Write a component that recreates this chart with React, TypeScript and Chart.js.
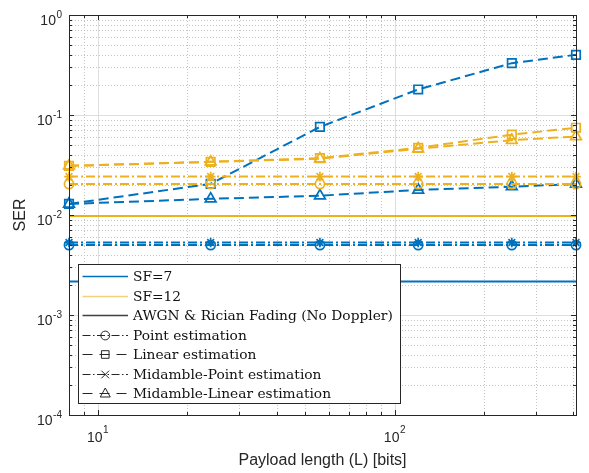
import { useEffect, useRef } from "react";
import { Chart, registerables } from "chart.js";

Chart.register(...registerables);

// Payload lengths (bits) where SER was evaluated
const payloadBits = [8, 24, 56, 120, 248, 408];

// SF = 7
const sf7Awgn = [0.00216, 0.00216, 0.00216, 0.00216, 0.00216, 0.00216];
const sf7Point = [0.005, 0.005, 0.005, 0.005, 0.005, 0.005];
const sf7Linear = [0.0129, 0.0205, 0.076, 0.18, 0.33, 0.4];
const sf7MidPoint = [0.0053, 0.0053, 0.0053, 0.0053, 0.0053, 0.0053];
const sf7MidLinear = [0.0129, 0.0145, 0.0156, 0.0178, 0.0192, 0.0204];

// SF = 12
const sf12Awgn = [0.0098, 0.0098, 0.0098, 0.0098, 0.0098, 0.0098];
const sf12Point = [0.0204, 0.0204, 0.0204, 0.0204, 0.0204, 0.0204];
const sf12Linear = [0.031, 0.034, 0.037, 0.047, 0.0636, 0.0746];
const sf12MidPoint = [0.0242, 0.0242, 0.0242, 0.0242, 0.0242, 0.0242];
const sf12MidLinear = [0.031, 0.034, 0.0365, 0.046, 0.056, 0.061];

// Axis decades
const xDecades = [1, 2];
const yDecades = [0, -1, -2, -3, -4];

const legendLabels = [
  "SF=7",
  "SF=12",
  "AWGN & Rician Fading (No Doppler)",
  "Point estimation",
  "Linear estimation",
  "Midamble-Point estimation",
  "Midamble-Linear estimation",
];

const BLUE = "#0072BD";
const YELLOW = "#EDB120";
const DASH = [10, 5];
const DASHDOT = [9, 3, 2, 3];
const SANS = '"Liberation Sans", Arial, Helvetica, sans-serif';
const SERIF = '"DejaVu Serif", "Liberation Serif", serif';

type Style = {
  dash: number[];
  marker: string | false;
  radius: number;
};

const solid: Style = { dash: [], marker: false, radius: 0 };
const point: Style = { dash: DASHDOT, marker: "circle", radius: 4.6 };
const linear: Style = { dash: DASH, marker: "rect", radius: 6 };
const midPoint: Style = { dash: DASHDOT, marker: "star", radius: 4.8 };
const midLinear: Style = { dash: DASH, marker: "triangle", radius: 6.2 };

function series(values: number[], color: string, st: Style) {
  return {
    data: payloadBits.map((x, i) => ({ x, y: values[i] })),
    borderColor: color,
    backgroundColor: "transparent",
    borderWidth: 2,
    borderDash: st.dash,
    pointStyle: st.marker || "circle",
    pointRadius: st.marker ? st.radius : 0,
    pointBorderWidth: 1.7,
    pointBorderColor: color,
    pointBackgroundColor: "transparent",
    tension: 0,
    clip: false as const,
  };
}

function drawPower(
  ctx: CanvasRenderingContext2D,
  exp: string,
  x: number,
  yBase: number,
  yExp: number,
  align: "right" | "center"
) {
  ctx.font = `14px ${SANS}`;
  const wb = ctx.measureText("10").width;
  ctx.font = `10px ${SANS}`;
  const we = ctx.measureText(exp).width;
  const total = wb + we + 0.5;
  const left = align === "right" ? x - total : x - total / 2;
  ctx.textAlign = "left";
  ctx.textBaseline = "alphabetic";
  ctx.font = `14px ${SANS}`;
  ctx.fillText("10", left, yBase);
  ctx.font = `10px ${SANS}`;
  ctx.fillText(exp, left + wb + 0.5, yExp);
}

function drawMarker(
  ctx: CanvasRenderingContext2D,
  kind: string,
  x: number,
  y: number,
  r: number
) {
  ctx.beginPath();
  if (kind === "circle") {
    ctx.arc(x, y, r, 0, Math.PI * 2);
  } else if (kind === "rect") {
    ctx.rect(x - r, y - r, 2 * r, 2 * r);
  } else if (kind === "triangle") {
    ctx.moveTo(x, y - r * 1.1);
    ctx.lineTo(x + r, y + r * 0.7);
    ctx.lineTo(x - r, y + r * 0.7);
    ctx.closePath();
  } else if (kind === "cross") {
    ctx.moveTo(x - r, y - r);
    ctx.lineTo(x + r, y + r);
    ctx.moveTo(x + r, y - r);
    ctx.lineTo(x - r, y + r);
  }
  ctx.stroke();
}

const frame = {
  id: "matlabFrame",
  beforeDatasetsDraw(chart: any) {
    const { ctx, chartArea: a, scales } = chart;
    const xs = scales.x;
    const ys = scales.y;
    ctx.save();
    ctx.lineWidth = 1;
    // minor grid (dotted)
    ctx.strokeStyle = "#c4c4c4";
    ctx.setLineDash([1, 2]);
    for (const d of [0, 1, 2]) {
      for (let k = 2; k <= 9; k++) {
        const v = k * Math.pow(10, d);
        if (v < 8 || v > 408) continue;
        const px = Math.round(xs.getPixelForValue(v)) + 0.5;
        ctx.beginPath();
        ctx.moveTo(px, a.top);
        ctx.lineTo(px, a.bottom);
        ctx.stroke();
      }
    }
    for (const d of [-4, -3, -2, -1]) {
      for (let k = 2; k <= 9; k++) {
        const v = k * Math.pow(10, d);
        const py = Math.round(ys.getPixelForValue(v)) + 0.5;
        ctx.beginPath();
        ctx.moveTo(a.left, py);
        ctx.lineTo(a.right, py);
        ctx.stroke();
      }
    }
    // major grid (solid)
    ctx.setLineDash([]);
    ctx.strokeStyle = "#dedede";
    for (const d of xDecades) {
      const px = Math.round(xs.getPixelForValue(Math.pow(10, d))) + 0.5;
      ctx.beginPath();
      ctx.moveTo(px, a.top);
      ctx.lineTo(px, a.bottom);
      ctx.stroke();
    }
    for (const d of yDecades) {
      const py = Math.round(ys.getPixelForValue(Math.pow(10, d))) + 0.5;
      ctx.beginPath();
      ctx.moveTo(a.left, py);
      ctx.lineTo(a.right, py);
      ctx.stroke();
    }
    ctx.restore();
  },
  afterDatasetsDraw(chart: any) {
    const { ctx, chartArea: a, scales } = chart;
    const xs = scales.x;
    const ys = scales.y;
    ctx.save();
    const ax = "#262626";
    ctx.strokeStyle = ax;
    ctx.lineWidth = 1;
    ctx.setLineDash([]);
    // inward tick marks on all four sides
    const tick = (px: number, len: number) => {
      ctx.beginPath();
      ctx.moveTo(px, a.bottom);
      ctx.lineTo(px, a.bottom - len);
      ctx.moveTo(px, a.top);
      ctx.lineTo(px, a.top + len);
      ctx.stroke();
    };
    const ytick = (py: number, len: number) => {
      ctx.beginPath();
      ctx.moveTo(a.left, py);
      ctx.lineTo(a.left + len, py);
      ctx.moveTo(a.right, py);
      ctx.lineTo(a.right - len, py);
      ctx.stroke();
    };
    for (const d of [0, 1, 2]) {
      for (let k = 1; k <= 9; k++) {
        const v = k * Math.pow(10, d);
        if (v < 8 || v > 408) continue;
        tick(Math.round(xs.getPixelForValue(v)) + 0.5, k === 1 ? 5 : 3);
      }
    }
    for (const d of [-4, -3, -2, -1, 0]) {
      for (let k = 1; k <= 9; k++) {
        const v = k * Math.pow(10, d);
        if (v > 1) continue;
        ytick(Math.round(ys.getPixelForValue(v)) + 0.5, k === 1 ? 5 : 3);
      }
    }
    // box
    ctx.strokeRect(
      Math.round(a.left) + 0.5,
      Math.round(a.top) + 0.5,
      Math.round(a.right - a.left),
      Math.round(a.bottom - a.top)
    );

    // tick labels
    ctx.fillStyle = ax;
    for (const d of yDecades) {
      const py = ys.getPixelForValue(Math.pow(10, d));
      drawPower(ctx, String(d), a.left - 7, py + 10, py + 3, "right");
    }
    for (const d of xDecades) {
      const px = xs.getPixelForValue(Math.pow(10, d));
      drawPower(ctx, String(d), px, a.bottom + 27, a.bottom + 18, "center");
    }

    // axis titles
    ctx.font = `16px ${SANS}`;
    ctx.textAlign = "center";
    ctx.textBaseline = "alphabetic";
    ctx.fillText("Payload length (L) [bits]", (a.left + a.right) / 2, a.bottom + 50);
    ctx.save();
    ctx.translate(25, (a.top + a.bottom) / 2);
    ctx.rotate(-Math.PI / 2);
    ctx.fillText("SER", 0, 0);
    ctx.restore();

    // legend
    const lx = a.left + 9;
    const ly = 264.5;
    const lw = 322;
    const lh = 139;
    ctx.fillStyle = "#ffffff";
    ctx.fillRect(lx, ly, lw, lh);
    ctx.strokeStyle = ax;
    ctx.lineWidth = 1;
    ctx.strokeRect(Math.round(lx) + 0.5, ly, lw, lh);

    // size the serif text so the longest entry spans the box
    ctx.font = `100px ${SERIF}`;
    const longest = ctx.measureText(legendLabels[2]).width;
    const fontPx = Math.min(14.5, (100 * 260) / longest);

    const x0 = lx + 4.5;
    const x1 = lx + 50;
    const xm = (x0 + x1) / 2;
    const rowY = (i: number) => 276 + i * 19.5;
    const samples = [
      { color: BLUE, width: 1.5, dash: [] as number[], marker: "" },
      { color: "#f5cf7c", width: 1.5, dash: [] as number[], marker: "" },
      { color: "#404040", width: 1.5, dash: [] as number[], marker: "" },
      { color: ax, width: 1, dash: [8, 2.5, 1.5, 2.5], marker: "circle" },
      { color: ax, width: 1, dash: [10, 7], marker: "rect" },
      { color: ax, width: 1, dash: [8, 2.5, 1.5, 2.5], marker: "cross" },
      { color: ax, width: 1, dash: [10, 7], marker: "triangle" },
    ];
    samples.forEach((s, i) => {
      const y = Math.round(rowY(i)) + 0.5;
      ctx.strokeStyle = s.color;
      ctx.lineWidth = s.width;
      ctx.setLineDash(s.dash);
      ctx.beginPath();
      ctx.moveTo(x0, y);
      ctx.lineTo(x1, y);
      ctx.stroke();
      ctx.setLineDash([]);
      if (s.marker) {
        ctx.lineWidth = 1;
        const r = s.marker === "triangle" ? 5 : s.marker === "circle" ? 4.4 : 3.8;
        drawMarker(ctx, s.marker, xm, y, r);
      }
      ctx.fillStyle = "#111111";
      ctx.font = `${fontPx}px ${SERIF}`;
      ctx.textAlign = "left";
      ctx.textBaseline = "middle";
      ctx.fillText(legendLabels[i], lx + 55, y + 0.5);
    });
    ctx.restore();
  },
};

export default function App() {
  const canvasRef = useRef<HTMLCanvasElement | null>(null);

  useEffect(() => {
    const canvas = canvasRef.current;
    if (!canvas) return;
    const chart = new Chart(canvas, {
      type: "line",
      data: {
        datasets: [
          series(sf12Awgn, YELLOW, solid),
          series(sf12Point, YELLOW, point),
          series(sf12Linear, YELLOW, linear),
          series(sf12MidPoint, YELLOW, midPoint),
          series(sf12MidLinear, YELLOW, midLinear),
          series(sf7Awgn, BLUE, solid),
          series(sf7Point, BLUE, point),
          series(sf7Linear, BLUE, linear),
          series(sf7MidPoint, BLUE, midPoint),
          series(sf7MidLinear, BLUE, midLinear),
        ],
      },
      options: {
        animation: false,
        responsive: true,
        maintainAspectRatio: false,
        events: [],
        layout: { padding: { left: 69, top: 15, right: 13, bottom: 58 } },
        scales: {
          x: { type: "logarithmic", min: 8, max: 408, display: false },
          y: { type: "logarithmic", min: 1e-4, max: 1, display: false },
        },
        plugins: {
          legend: { display: false },
          tooltip: { enabled: false },
        },
      },
      plugins: [frame],
    });
    return () => chart.destroy();
  }, []);

  return (
    <div
      style={{
        position: "absolute",
        left: 0,
        top: 0,
        width: 589,
        height: 473,
        background: "#ffffff",
      }}
    >
      <canvas ref={canvasRef} />
    </div>
  );
}
